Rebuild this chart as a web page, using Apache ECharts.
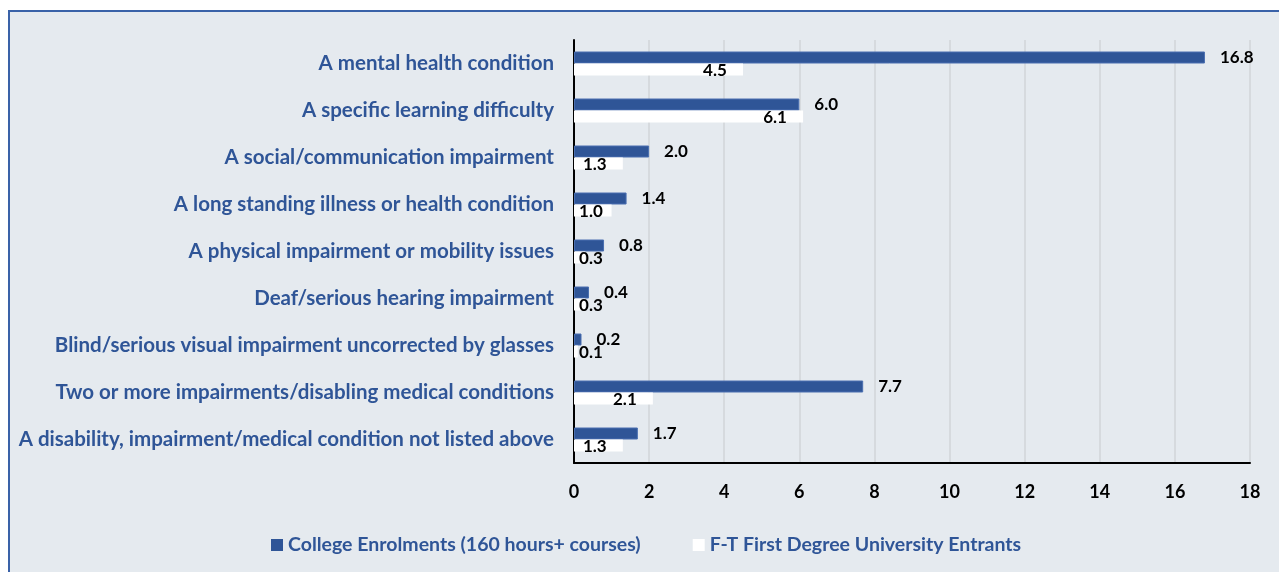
<!DOCTYPE html>
<html>
<head>
<meta charset="utf-8">
<script src="https://cdn.jsdelivr.net/npm/echarts@6/dist/echarts.min.js"></script>
<style>
  html, body { margin: 0; padding: 0; background: #fff; }
  #frame { position: absolute; left: 8px; top: 10px; width: 1300px; height: 600px;
           background: #E5EAEF; border: 2px solid #3A62A8; box-sizing: border-box; }
  #chart { position: absolute; left: 0; top: 0; width: 1279px; height: 572px; }
</style>
</head>
<body>
<div id="frame"></div>
<div id="chart"></div>
<script>
'use strict';

const categories = [
    'A mental health condition',
    'A specific learning difficulty',
    'A social/communication impairment',
    'A long standing illness or health condition',
    'A physical impairment or mobility issues',
    'Deaf/serious hearing impairment',
    'Blind/serious visual impairment uncorrected by glasses',
    'Two or more impairments/disabling medical conditions',
    'A disability, impairment/medical condition not listed above'
];
const collegeEnrolments = [16.8, 6.0, 2.0, 1.4, 0.8, 0.4, 0.2, 7.7, 1.7];
const universityEntrants = [4.5, 6.1, 1.3, 1.0, 0.3, 0.3, 0.1, 2.1, 1.3];
const seriesNames = ['College Enrolments (160 hours+ courses)', 'F-T First Degree University Entrants'];

const blue = '#2F5597';
const font = 'Lato';

const chart = echarts.init(document.getElementById('chart'));

const valueLabel = {
    show: true,
    fontFamily: font,
    fontWeight: 'bold',
    fontSize: 17,
    color: '#000',
    formatter: p => p.value.toFixed(1)
};

chart.setOption({
    backgroundColor: 'transparent',
    animation: false,
    grid: {left: 574, right: 29, top: 40, bottom: 109},
    legend: {
        left: 266,
        top: 530,
        itemWidth: 12,
        itemHeight: 12,
        itemGap: 52,
        icon: 'rect',
        itemStyle: {borderWidth: 0},
        textStyle: {color: blue, fontFamily: font, fontWeight: 'bold', fontSize: 19.5},
        data: seriesNames
    },
    xAxis: {
        type: 'value',
        min: 0,
        max: 18,
        interval: 2,
        axisLine: {show: true, lineStyle: {color: '#000', width: 2}},
        axisTick: {show: false},
        axisLabel: {color: '#000', fontFamily: font, fontWeight: 'bold', fontSize: 18, margin: 20},
        splitLine: {lineStyle: {color: '#D6DADE', width: 2}}
    },
    yAxis: {
        type: 'category',
        inverse: true,
        data: categories,
        axisLine: {show: true, lineStyle: {color: '#000', width: 2}},
        axisTick: {show: false},
        axisLabel: {color: blue, fontFamily: font, fontWeight: 'bold', fontSize: 20.5, margin: 20}
    },
    series: [
        {
            name: seriesNames[0],
            type: 'bar',
            data: collegeEnrolments,
            barWidth: 12,
            barGap: '0%',
            itemStyle: {color: blue, borderColor: '#4A6FB0', borderWidth: 1},
            label: Object.assign({position: 'right', distance: 15}, valueLabel)
        },
        {
            name: seriesNames[1],
            type: 'bar',
            data: universityEntrants,
            barWidth: 12,
            barGap: '0%',
            itemStyle: {color: '#FFFFFF'},
            label: Object.assign({position: 'insideRight'}, valueLabel),
            labelLayout: function (p) {
                const r = p.rect;
                return {
                    x: Math.max(r.x + r.width - 28, r.x + 17),
                    y: r.y + r.height / 2 + 1,
                    align: 'center',
                    verticalAlign: 'middle'
                };
            }
        }
    ]
});
</script>
</body>
</html>
